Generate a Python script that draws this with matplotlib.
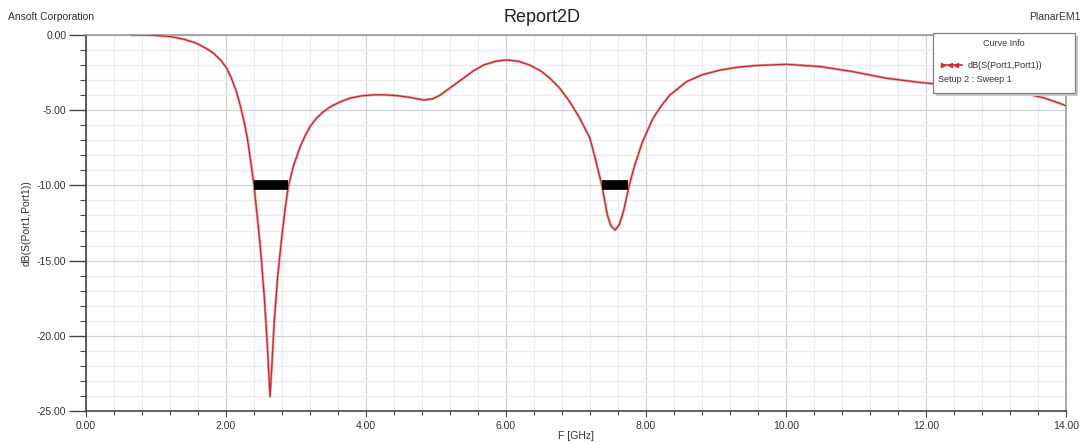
import matplotlib.pyplot as plt
import numpy as np
from matplotlib.lines import Line2D
from matplotlib.patches import Rectangle
from matplotlib.ticker import MultipleLocator, FormatStrFormatter

plt.rcParams['font.family'] = ['Liberation Sans', 'DejaVu Sans']

# Values (F in GHz, dB(S11))
freq_ghz = [0.65, 0.90, 1.20, 1.40, 1.58, 1.72, 1.82, 1.92, 2.01, 2.08,
            2.15, 2.21, 2.27, 2.31, 2.35, 2.40, 2.45, 2.50, 2.55, 2.59,
            2.63, 2.655, 2.69, 2.74, 2.80, 2.85, 2.89, 2.96, 3.06, 3.13,
            3.20, 3.29, 3.39, 3.50, 3.63, 3.77, 3.93, 4.10, 4.27, 4.44,
            4.63, 4.82, 4.95, 5.06, 5.22, 5.39, 5.53, 5.68, 5.85, 6.01,
            6.18, 6.34, 6.50, 6.63, 6.77, 6.91, 7.05, 7.20, 7.28, 7.37,
            7.45, 7.50, 7.56, 7.62, 7.68, 7.76, 7.84, 7.95, 8.10, 8.22,
            8.34, 8.58, 8.80, 9.06, 9.30, 9.53, 10.01, 10.49, 10.96, 11.44,
            11.91, 12.40, 12.90, 13.34, 13.70, 14.00]
s11_db = [0.00, 0.00, -0.10, -0.28, -0.55, -0.90, -1.20, -1.65, -2.20, -2.90,
          -3.77, -4.80, -6.00, -7.00, -8.30, -10.00, -12.20, -14.60, -17.60, -20.60,
          -24.05, -22.00, -19.00, -16.00, -13.30, -11.40, -10.10, -8.76, -7.43, -6.70,
          -6.10, -5.55, -5.10, -4.75, -4.45, -4.20, -4.05, -3.98, -3.98, -4.03,
          -4.15, -4.32, -4.25, -4.00, -3.45, -2.88, -2.40, -2.00, -1.75, -1.66,
          -1.75, -2.00, -2.40, -2.88, -3.55, -4.43, -5.50, -6.87, -8.30, -10.00,
          -12.00, -12.70, -12.97, -12.60, -11.70, -10.00, -8.64, -7.10, -5.54, -4.70,
          -4.00, -3.10, -2.65, -2.33, -2.15, -2.04, -1.95, -2.10, -2.44, -2.88,
          -3.15, -3.38, -3.60, -3.80, -4.20, -4.70]

# -10 dB bandwidth markers (start, stop in GHz)
band_start = [2.40, 7.37]
band_stop = [2.89, 7.75]
band_level = -10.0

fig = plt.figure(figsize=(10.84, 4.43), dpi=100)
ax = fig.add_axes([0.0793, 0.0722, 0.9041, 0.8488])

# Grid
ax.xaxis.set_major_locator(MultipleLocator(2.0))
ax.xaxis.set_minor_locator(MultipleLocator(0.4))
ax.yaxis.set_major_locator(MultipleLocator(5.0))
ax.yaxis.set_minor_locator(MultipleLocator(1.0))
ax.xaxis.set_major_formatter(FormatStrFormatter('%.2f'))
ax.yaxis.set_major_formatter(FormatStrFormatter('%.2f'))
ax.grid(True, which='major', color='#d2d2d2', linewidth=0.9)
ax.grid(True, which='minor', color='#ebebeb', linewidth=0.8)
ax.set_axisbelow(True)

# Curve with a soft halo, like the exported report
ax.plot(freq_ghz, s11_db, color='#f3a3a3', linewidth=1.9, solid_capstyle='round',
        solid_joinstyle='round', zorder=3)
ax.plot(freq_ghz, s11_db, color='#c0282e', linewidth=0.9, solid_capstyle='round',
        solid_joinstyle='round', zorder=4)

# Bandwidth markers
ax.hlines([band_level] * len(band_start), band_start, band_stop,
          color='black', linewidth=7.0, zorder=5)

ax.set_xlim(0, 14)
ax.set_ylim(-25, 0)

# Spines and ticks
for side in ['left', 'bottom']:
    ax.spines[side].set_color('#444444')
    ax.spines[side].set_linewidth(1.2)
for side in ['top', 'right']:
    ax.spines[side].set_color('#9a9a9a')
    ax.spines[side].set_linewidth(1.2)
ax.tick_params(axis='y', which='major', length=12, width=1.0, color='#444444',
               labelsize=7.5, labelcolor='#333333', pad=2)
ax.tick_params(axis='y', which='minor', length=4, width=0.8, color='#444444')
ax.tick_params(axis='x', which='major', length=4, width=0.8, color='#444444',
               labelsize=7.5, labelcolor='#333333', pad=3)
ax.tick_params(axis='x', which='minor', length=3, width=0.8, color='#444444')

ax.set_xlabel('F [GHz]', fontsize=7.5, color='#333333', labelpad=0)
ax.set_ylabel('dB(S(Port1,Port1))', fontsize=7.5, color='#333333', labelpad=4)

# Header texts
fig.text(0.5, 0.96, 'Report2D', ha='center', va='center', fontsize=13, color='#222222')
fig.text(0.007, 0.962, 'Ansoft Corporation', ha='left', va='center', fontsize=7.5, color='#333333')
fig.text(0.997, 0.962, 'PlanarEM1', ha='right', va='center', fontsize=7.5, color='#333333')

# Curve info box
box_x0, box_y0 = 933 / 1084, 1 - 93 / 443
box_w, box_h = 142 / 1084, 60 / 443
shadow = Rectangle((box_x0 + 0.003, box_y0 - 0.007), box_w, box_h, transform=fig.transFigure,
                   facecolor='#c8c8c8', edgecolor='none', zorder=8)
box = Rectangle((box_x0, box_y0), box_w, box_h, transform=fig.transFigure,
                facecolor='white', edgecolor='#808080', linewidth=0.9, zorder=9)
fig.patches.extend([shadow, box])
fig.text(box_x0 + box_w / 2, 1 - 43 / 443, 'Curve Info', ha='center', va='center',
         fontsize=6.5, color='#333333', zorder=10)
fig.add_artist(Line2D([943 / 1084, 962 / 1084], [1 - 65 / 443, 1 - 65 / 443],
                      transform=fig.transFigure, color='#d42a2a', linewidth=1.2,
                      marker='>', markersize=3, markevery=[0], zorder=10))
fig.add_artist(Line2D([950 / 1084, 956 / 1084], [1 - 65 / 443, 1 - 65 / 443],
                      transform=fig.transFigure, color='#d42a2a', linewidth=0,
                      marker='<', markersize=3, zorder=10))
fig.text(968 / 1084, 1 - 65 / 443, 'dB(S(Port1,Port1))', ha='left', va='center',
         fontsize=6.5, color='#333333', zorder=10)
fig.text(938 / 1084, 1 - 80 / 443, 'Setup 2 : Sweep 1', ha='left', va='center',
         fontsize=6.5, color='#333333', zorder=10)

fig.savefig('out.png', dpi=100)
